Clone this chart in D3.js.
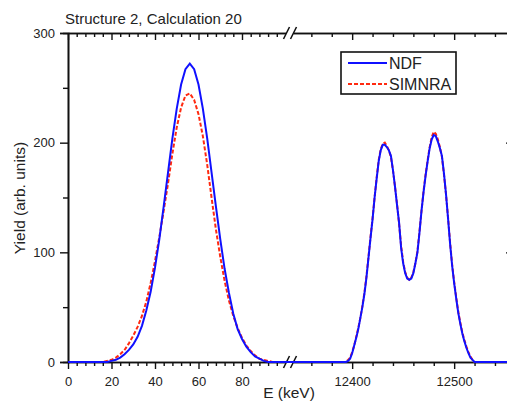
<!DOCTYPE html>
<html>
<head>
<meta charset="utf-8">
<script src="https://cdn.jsdelivr.net/npm/d3@7"></script>
<style>
  body { margin: 0; background: #fff; }
  text { font-family: "Liberation Sans", Arial, sans-serif; fill: #222; }
</style>
</head>
<body>
<script>
// low energy part (keV)
var eLow = [16, 18, 20, 22, 24, 26, 28, 30, 32, 34, 36, 38, 40, 42, 44, 46, 48, 50, 52, 54,
  56, 58, 60, 62, 64, 66, 68, 70, 72, 74, 76, 78, 80, 82, 84, 86, 88, 90, 92, 94, 96];
var ndfLow = [0, 0, 1, 2, 4, 7, 11, 16, 23, 33, 47, 64, 86, 112, 142, 173, 204, 231, 253, 267,
  272, 267, 253, 231, 204, 173, 142, 112, 85, 63, 44, 30, 21, 14, 9, 5, 3, 1, 0, 0, 0];
var simnraLow = [0, 1, 2, 4, 7, 11, 17, 24, 32, 42, 55, 72, 92, 114, 138, 163, 190, 214, 232, 243,
  245, 239, 226, 206, 180, 150, 121, 96, 74, 56, 42, 31, 22, 15, 10, 6, 3, 2, 1, 0, 0];

// high energy part (keV)
var eHigh = [12390, 12392, 12394, 12396, 12398, 12400, 12402, 12404, 12406, 12408,
  12410, 12412, 12414, 12416, 12418, 12420, 12422, 12424, 12426, 12428,
  12430, 12432, 12434, 12436, 12438, 12440, 12442, 12444, 12446, 12448,
  12450, 12452, 12454, 12456, 12458, 12460, 12462, 12464, 12466, 12468,
  12470, 12472, 12474, 12476, 12478, 12480, 12482, 12484, 12486, 12488,
  12490, 12492, 12494, 12496, 12498, 12500, 12502, 12504, 12506, 12508,
  12510, 12512, 12514, 12516, 12518, 12520];
var ndfHigh = [0, 0, 0, 1, 3, 8, 15, 22, 30, 40,
  50, 62, 77, 95, 113, 130, 150, 167, 183, 193,
  198, 198, 196, 193, 188, 175, 160, 143, 127, 104,
  90, 81, 76, 75, 76, 81, 90, 100, 118, 138,
  155, 170, 183, 195, 203, 207, 206, 201, 195, 188,
  172, 153, 131, 108, 88, 72, 58, 45, 35, 26,
  19, 13, 8, 4, 2, 0];
var simnraHigh = [0, 0, 0, 2, 4, 9, 15, 23, 31, 40,
  51, 63, 78, 96, 114, 131, 150, 168, 184, 194,
  199, 200, 197, 193, 187, 175, 160, 144, 126, 106,
  91, 82, 77, 75, 77, 82, 90, 101, 119, 138,
  156, 171, 184, 196, 205, 210, 208, 203, 196, 187,
  171, 153, 132, 109, 89, 73, 59, 46, 36, 27,
  20, 14, 9, 5, 2, 0];

var lowMajor = [0, 20, 40, 60, 80];
var lowMinor = [4, 8, 12, 16, 24, 28, 32, 36, 44, 48, 52, 56, 64, 68, 72, 76, 84, 88, 92, 96];
var highMajor = [12400, 12500];
var highMinor = [12360, 12380, 12420, 12440, 12460, 12480, 12520, 12540];
var yMajor = [0, 100, 200, 300];
var yMinor = [50, 150, 250];

var width = 507, height = 405;
var plotTop = 33, plotBottom = 362, plotLeft = 68;

var svg = d3.select("body").append("svg")
  .attr("width", width)
  .attr("height", height);

var xL = d3.scaleLinear().domain([0, 100]).range([plotLeft, 285.5]);
var xR = d3.scaleLinear().domain([12342, 12560]).range([293, 293 + 218 * 1.02]);
var y = d3.scaleLinear().domain([0, 300]).range([plotBottom, plotTop]);

function xPos(e) {
  return e <= 100 ? xL(e) : xR(e);
}

function series(eL, vL, eH, vH) {
  var pts = [{ e: 0, v: 0 }];
  eL.forEach(function(e, i) { pts.push({ e: e, v: vL[i] }); });
  pts.push({ e: 100, v: 0 });
  pts.push({ e: 12342, v: 0 });
  eH.forEach(function(e, i) { pts.push({ e: e, v: vH[i] }); });
  pts.push({ e: 12560, v: 0 });
  return pts;
}

var line = d3.line()
  .x(function(d) { return xPos(d.e); })
  .y(function(d) { return y(d.v); });

// x axes (bottom + top), in two pieces with a break
function xAxis(scale, major, minor, yPos, labels) {
  var g = svg.append("g").attr("transform", "translate(0," + yPos + ")");
  g.append("g").call(d3.axisBottom(scale).tickValues(minor).tickSize(4).tickSizeOuter(0).tickFormat(""));
  var gm = g.append("g").call(d3.axisBottom(scale).tickValues(major).tickSize(7).tickSizeOuter(0)
    .tickFormat(labels ? d3.format("d") : ""));
  g.selectAll("path.domain").attr("stroke", "#111").attr("stroke-width", 1.6);
  g.selectAll(".tick line").attr("stroke", "#111").attr("stroke-width", 1.4);
  gm.selectAll("text")
    .attr("y", 15)
    .attr("dy", "0.71em")
    .style("font-size", "13px")
    .style("font-family", "'Liberation Sans', Arial, sans-serif")
    .attr("fill", "#222");
  return g;
}

xAxis(xL, lowMajor, lowMinor, plotBottom, true);
xAxis(xR, highMajor, highMinor, plotBottom, true);
xAxis(xL, lowMajor, lowMinor, plotTop, false);
xAxis(xR, highMajor, highMinor, plotTop, false);

// y axis
var gy = svg.append("g").attr("transform", "translate(" + plotLeft + ",0)");
gy.append("g").call(d3.axisLeft(y).tickValues(yMinor).tickSize(5).tickFormat(""));
gy.append("g").call(d3.axisLeft(y).tickValues(yMajor).tickSize(8).tickPadding(5).tickFormat(d3.format("d")));
gy.selectAll("path.domain").attr("stroke", "#111").attr("stroke-width", 1.6);
gy.selectAll(".tick line").attr("stroke", "#111").attr("stroke-width", 1.4);
gy.selectAll("text").style("font-size", "13px")
  .style("font-family", "'Liberation Sans', Arial, sans-serif").attr("fill", "#222");

// right axis, mostly outside the window
var gr = svg.append("g").attr("transform", "translate(512,0)");
gr.append("g").call(d3.axisRight(y).tickValues(yMajor).tickSize(-6).tickFormat(""));
gr.selectAll(".tick line").attr("stroke", "#111").attr("stroke-width", 1.2);
gr.selectAll("path.domain").remove();

// break marks
[plotTop, plotBottom].forEach(function(yy) {
  [286.5, 293.5].forEach(function(xx) {
    svg.append("line")
      .attr("x1", xx - 3).attr("y1", yy + 6)
      .attr("x2", xx + 3).attr("y2", yy - 6)
      .attr("stroke", "#111").attr("stroke-width", 1.5);
  });
});

// data lines
svg.append("path")
  .datum(series(eLow, simnraLow, eHigh, simnraHigh))
  .attr("d", line)
  .attr("fill", "none")
  .attr("stroke", "#ff2a10")
  .attr("stroke-width", 2)
  .attr("stroke-dasharray", "4,2");

svg.append("path")
  .datum(series(eLow, ndfLow, eHigh, ndfHigh))
  .attr("d", line)
  .attr("fill", "none")
  .attr("stroke", "#1010ff")
  .attr("stroke-width", 2);

// title and labels
svg.append("text")
  .attr("x", 65).attr("y", 24)
  .style("font-size", "15px")
  .text("Structure 2, Calculation 20");

svg.append("text")
  .attr("transform", "translate(25,198) rotate(-90)")
  .attr("text-anchor", "middle")
  .style("font-size", "15.5px")
  .text("Yield (arb. units)");

svg.append("text")
  .attr("x", 289).attr("y", 398)
  .attr("text-anchor", "middle")
  .style("font-size", "15.5px")
  .text("E (keV)");

// legend
var lg = svg.append("g");
lg.append("rect")
  .attr("x", 341).attr("y", 52)
  .attr("width", 115).attr("height", 42)
  .attr("fill", "#fff")
  .attr("stroke", "#111")
  .attr("stroke-width", 1.6);
lg.append("line")
  .attr("x1", 348).attr("x2", 387).attr("y1", 63).attr("y2", 63)
  .attr("stroke", "#1010ff").attr("stroke-width", 2);
lg.append("line")
  .attr("x1", 348).attr("x2", 387).attr("y1", 84).attr("y2", 84)
  .attr("stroke", "#ff2a10").attr("stroke-width", 2).attr("stroke-dasharray", "4,2");
lg.append("text").attr("x", 389).attr("y", 69).style("font-size", "16px").text("NDF");
lg.append("text").attr("x", 389).attr("y", 90).style("font-size", "16px").text("SIMNRA");
</script>
</body>
</html>
